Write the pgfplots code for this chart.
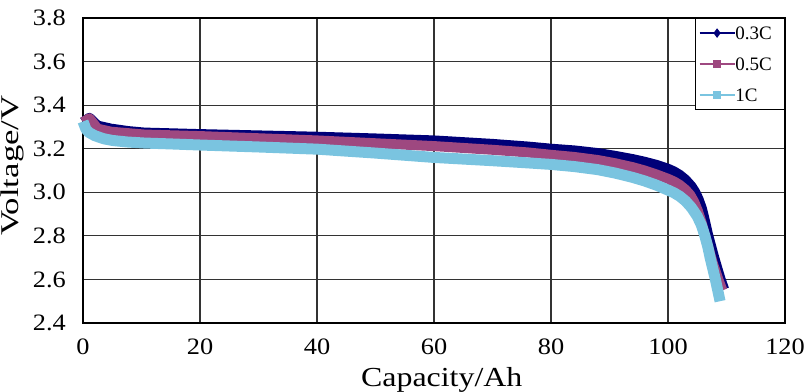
\documentclass[border=0pt]{standalone}
\usepackage{fontspec}
\setmainfont{Liberation Serif}
\newfontfamily\tickfont[FakeStretch=1.12]{Liberation Serif}
\newfontfamily\xlabfont[FakeStretch=1.16]{Liberation Serif}
\newfontfamily\ylabfont[FakeStretch=1.36]{Liberation Serif}
\usepackage{pgfplots}
\pgfplotsset{compat=1.18}
\definecolor{cnavy}{RGB}{0,0,120}
\definecolor{cpink}{RGB}{158,72,128}
\definecolor{cblue}{RGB}{122,196,224}
\begin{document}
\begin{tikzpicture}
\useasboundingbox (-83bp,-69bp) rectangle (724bp,323bp);
\begin{axis}[
  at={(0,0)}, anchor=south west,
  scale only axis, width=702bp, height=305bp,
  xmin=0, xmax=120, ymin=2.4, ymax=3.8,
  clip=false,
  xtick={0,20,40,60,80,100,120},
  xticklabels={0,20,40,60,80,100,120},
  ytick={2.4,2.6,2.8,3.0,3.2,3.4,3.6,3.8},
  yticklabels={2.4,2.6,2.8,3.0,3.2,3.4,3.6,3.8},
  major tick length=0pt,
  grid=major,
  grid style={black!80, line width=1.1bp},
  axis line style={black, line width=1.1bp},
  tick label style={font=\tickfont\fontsize{23.5bp}{26bp}\selectfont},
  xticklabel style={anchor=north, inner sep=0pt, yshift=-16bp},
  yticklabel style={anchor=east, inner sep=0pt, xshift=-17bp},
  xlabel={Capacity/Ah},
  ylabel={Voltage/V},
  every axis x label/.style={at={(axis description cs:0.511,-0.2089)}, anchor=base, font=\xlabfont\fontsize{27.5bp}{30bp}\selectfont},
  every axis y label/.style={at={(axis description cs:-0.0912,0.516)}, rotate=90, anchor=base, font=\ylabfont\fontsize{25.5bp}{28bp}\selectfont},
  legend style={at={(1,1)}, anchor=north east, draw=black, line width=1.2bp, fill=white,
    font=\fontsize{19bp}{21bp}\selectfont, inner xsep=3bp, inner ysep=8bp, row sep=18bp,
    nodes={inner sep=0pt, text height=13bp, text depth=0bp, text width=46bp, align=left}},
  legend cell align=left,
  legend image code/.code={\draw[mark repeat=2,mark phase=2,#1] plot coordinates {(0bp,0bp) (17.5bp,0bp) (35bp,0bp)};},
]
\addlegendimage{cnavy, line width=1.6bp, mark=diamond*, mark size=3.5bp, mark options={solid}}
\addlegendentry{0.3C}
\addlegendimage{cpink, line width=1.6bp, mark=square*, mark size=3.5bp}
\addlegendentry{0.5C}
\addlegendimage{cblue, line width=1.6bp, mark=square*, mark size=3.5bp}
\addlegendentry{1C}

\addplot[cnavy, line width=10bp, line join=round, forget plot] table {
x y
0 3.322
1.1 3.342
2.5 3.306
4.8 3.292
7.7 3.281
10.5 3.274
16 3.270
20 3.267
30 3.261
40 3.255
50 3.247
60 3.238
70 3.222
76 3.210
80 3.200
84 3.192
88 3.180
91 3.167
94 3.152
96 3.140
98 3.126
100 3.108
101 3.096
102 3.080
103 3.058
104 3.028
104.6 3.003
105.2 2.970
105.8 2.925
106.3 2.870
106.8 2.810
107.4 2.750
107.9 2.700
108.5 2.645
109.0 2.600
109.6 2.555
};
\addplot[cpink, line width=10bp, line join=round, forget plot] table {
x y
0 3.322
1.1 3.340
2.5 3.292
4.8 3.278
10.5 3.265
20 3.258
30 3.248
40 3.238
50 3.225
60 3.212
70 3.195
76 3.183
80 3.172
84 3.162
88 3.148
91 3.133
94 3.115
96 3.100
98 3.082
100 3.062
101 3.050
102 3.034
103 3.012
103.8 2.988
104.5 2.955
105.1 2.915
105.7 2.865
106.2 2.815
106.7 2.765
107.6 2.680
108.6 2.600
109.3 2.550
};
\addplot[cblue, line width=11bp, line join=round, forget plot] table {
x y
0 3.325
0.5 3.290
1 3.275
2 3.260
3.5 3.246
5 3.238
7.5 3.231
10.5 3.226
15 3.222
20 3.217
30 3.208
40 3.198
50 3.180
60 3.160
70 3.145
76 3.135
80 3.128
84 3.118
88 3.104
91 3.088
94 3.068
96 3.052
98 3.033
100 3.010
101 2.998
102 2.982
103 2.960
104 2.930
105 2.890
105.7 2.850
106.3 2.800
106.8 2.750
107.2 2.700
108.1 2.600
108.9 2.500
};
\end{axis}
\end{tikzpicture}
\end{document}
